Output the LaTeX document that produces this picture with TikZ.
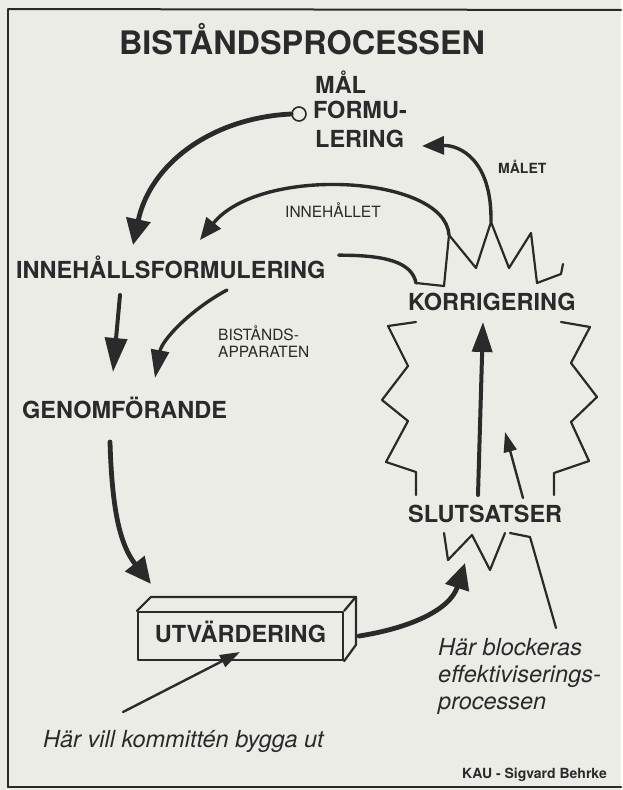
\documentclass[tikz,border=0pt]{standalone}
\usepackage{fontspec}
\setmainfont{TeX Gyre Heros}
\usetikzlibrary{arrows.meta}

\definecolor{paper}{RGB}{236,236,231}
\definecolor{ink}{RGB}{42,42,42}

\begin{document}
\begin{tikzpicture}[x=1pt, y=-1pt, line cap=round, line join=round, draw=ink, text=ink,
    lab/.style={anchor=base west, inner sep=0pt, font=\fontsize{23.5}{28}\selectfont\bfseries},
    tag/.style={anchor=base west, inner sep=0pt, font=\fontsize{15.5}{18}\selectfont},
    note/.style={anchor=base west, inner sep=0pt, font=\fontsize{23.5}{28}\selectfont\itshape},
    flow/.style={line width=4.8pt, -{Triangle[length=26pt, width=24pt]}},
    drop/.style={line width=4pt, -{Triangle[length=34pt, width=22pt]}},
    feed/.style={line width=3.4pt, -{Triangle[length=22pt, width=18pt]}},
    pointer/.style={line width=2.4pt, -{Triangle[length=20pt, width=13pt]}},
    jag/.style={line width=2.2pt}]

  % ── papper och ram (höger kant saknas i skanningen) ──
  \fill[paper] (0,0) rectangle (621,790);
  \draw[line width=2pt] (8,9) -- (621,10);
  \draw[line width=1.2pt] (8,9) -- (8,787);
  \draw[line width=2.6pt] (8,787) -- (621,787);

  % ── rubrik ──
  \node[anchor=base, inner sep=0pt, font=\fontsize{32.4}{36}\selectfont\bfseries] (title) at (302,54) {BISTÅNDSPROCESSEN};

  % ── huvudetiketter (namn/x/baslinje/text) ──
  \foreach \n/\x/\y/\lab in {%
      goalA/315/93/MÅL,
      goalB/313/118/FORMU-,
      goalC/315/147/LERING,
      content/16/278/INNEHÅLLSFORMULERING,
      correct/408/310/KORRIGERING,
      execute/22/418/GENOMFÖRANDE,
      conclude/408/522/SLUTSATSER}
    \node[lab] (\n) at (\x,\y) {\lab};

  % ── små etiketter vid pilarna ──
  \node[tag, font=\fontsize{14}{17}\selectfont\bfseries] (goalTag) at (498,173) {MÅLET};
  \node[tag] (contentTag) at (285,217) {INNEHÅLLET};
  \node[tag] (staffA) at (218,340) {BISTÅNDS-};
  \node[tag] (staffB) at (218,357) {APPARATEN};

  % ── kommentarer ──
  \node[note] (wish) at (43,747) {Här vill kommittén bygga ut};
  \foreach \n/\y/\lab in {blockA/655/Här blockeras, blockB/682/effektiviserings-, blockC/709/processen}
    \node[note] (\n) at (438,\y) {\lab};
  \node[tag, font=\fontsize{14}{17}\selectfont\bfseries] (credit) at (462,778) {KAU - Sigvard Behrke};

  % ── målpunkten ──
  \node[circle, draw, fill=paper, line width=1.6pt, minimum size=14pt, inner sep=0pt] (goal) at (299,114) {};

  % ── lådan UTVÄRDERING ──
  \node[draw, line width=2.2pt, minimum width=205pt, minimum height=48pt, inner sep=0pt,
        text height=12pt, text depth=0pt, font=\fontsize{23.5}{28}\selectfont\bfseries] (utv) at (240.5,636) {UTVÄRDERING};
  \draw[line width=2.2pt] (utv.north west) -- ++(14,-14) coordinate (utvBL) -- ++(205,0) coordinate (utvBR) -- (utv.north east);
  \draw[line width=2.2pt] (utvBR) -- ++(0,48) -- (utv.south east);

  % ── taggig stjärna runt KORRIGERING / SLUTSATSER ──
  \coordinate (pkA) at (449,235);
  \coordinate (pkB) at (491,222);
  \coordinate (jagL) at (416,283);
  \coordinate (blockTip) at (556,628);
  \draw[jag] (jagL) -- (444,286) -- (pkA) -- (476,268) -- (pkB) -- (509,268) -- (531,233) -- (537,283) -- (561,274) -- (563,264);
  \draw[jag] (416,322) -- (388,326) -- (408,366) -- (382,400) -- (408,421) -- (386,462) -- (416,472) -- (416,495);
  \draw[jag] (561,322) -- (590,327) -- (571,363) -- (597,397) -- (571,422) -- (589,461) -- (554,473) -- (554,495);
  \draw[jag] (444,533) -- (448,560) -- (472,535) -- (490,570) -- (505,533);
  \draw[jag] (510,533) -- (530,537) -- (blockTip);

  % ── pilarnas ändpunkter ──
  \coordinate (contentIn)  at (133,245);
  \coordinate (feedIn)     at (200,240);
  \coordinate (goalIn)     at (422,146);
  \coordinate (dropA)      at (120,295);
  \coordinate (dropB)      at (113,372);
  \coordinate (staffOut)   at (227,290);
  \coordinate (staffIn)    at (155,378);
  \coordinate (execOut)    at (110,442);
  \coordinate (concIn)     at (465,563);
  \coordinate (concUp)     at (478,495);
  \coordinate (corrIn)     at (483,322);
  \coordinate (blockOut)   at (523,498);
  \coordinate (blockIn)    at (505,432);
  \coordinate (wishOut)    at (123,712);
  \coordinate (wishIn)     at (240,652);

  % ── flödet ──
  \draw[flow] (goal.west) .. controls (210,118) and (150,165) .. (contentIn);
  \draw[feed] (pkA) .. controls (445,175) and (260,165) .. (feedIn);
  \draw[feed] (pkB) .. controls (492,160) and (460,145) .. (goalIn);
  \draw[line width=3.4pt] ([xshift=13pt]content.north east) .. controls (385,255) and (412,262) .. (jagL);
  \draw[drop] (dropA) -- (dropB);
  \draw[feed, -{Triangle[length=28pt, width=18pt]}] (staffOut) .. controls (190,310) and (162,340) .. (staffIn);
  \draw[flow] (execOut) .. controls (112,510) and (120,545) .. ([yshift=13pt]utvBL);
  \draw[flow] ([xshift=15pt]utv.east) .. controls (410,628) and (450,610) .. (concIn);
  \draw[drop, -{Triangle[length=30pt, width=20pt]}] (concUp) -- (corrIn);
  \draw[pointer] (blockOut) -- (blockIn);
  \draw[pointer] (wishOut) -- (wishIn);

  \path[use as bounding box] (0,0) rectangle (621,790);
\end{tikzpicture}
\end{document}
